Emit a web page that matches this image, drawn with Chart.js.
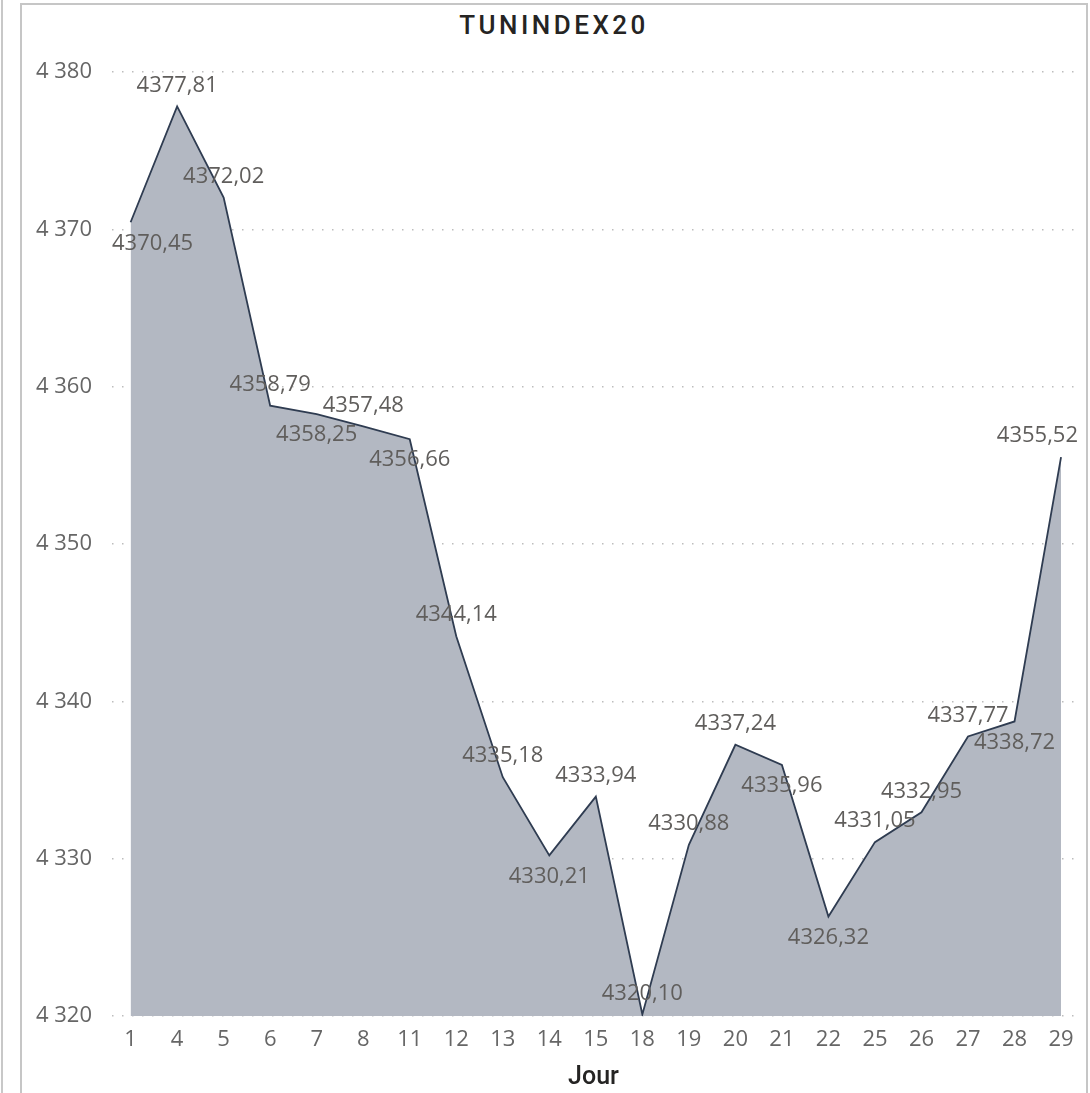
<!DOCTYPE html>
<html>
<head>
<meta charset="utf-8">
<script src="https://cdn.jsdelivr.net/npm/chart.js@4/dist/chart.umd.min.js"></script>
<style>
  html, body { margin: 0; padding: 0; background: #ffffff; }
  #wrap { position: relative; width: 1090px; height: 1093px; overflow: hidden; }
  #outerLine { position: absolute; left: 1px; top: 0; width: 2px; height: 1093px; background: #c8c8c8; }
  #box { position: absolute; left: 20px; top: 3px; width: 1064px; height: 1200px;
         border: 2px solid #c6c6c6; box-sizing: content-box; }
  #title { position: absolute; left: 22px; width: 1064px; top: 10px; text-align: center;
           font-family: Roboto, "DejaVu Sans", sans-serif; font-weight: 500; font-size: 26px;
           letter-spacing: 3.5px; color: #252423; line-height: 30px; }
  canvas { position: absolute; left: 0; top: 0; }
</style>
</head>
<body>
<div id="wrap">
  <div id="outerLine"></div>
  <div id="box"></div>
  <div id="title">TUNINDEX20</div>
  <canvas id="c" width="1090" height="1093"></canvas>
</div>
<script>
// ---- data ----
const days = ['1','4','5','6','7','8','11','12','13','14','15','18','19','20','21','22','25','26','27','28','29'];
const closes = [4370.45, 4377.81, 4372.02, 4358.79, 4358.25, 4357.48, 4356.66, 4344.14, 4335.18, 4330.21,
                4333.94, 4320.10, 4330.88, 4337.24, 4335.96, 4326.32, 4331.05, 4332.95, 4337.77, 4338.72, 4355.52];
const labelSides = ['below','above','above','above','below','above','below','above','above','below',
                    'above','above','above','above','below','below','above','above','above','below','above'];
const yTickValues = [4320, 4330, 4340, 4350, 4360, 4370, 4380];
const xTitle = 'Jour';

const fmtThousands = v => String(Math.round(v)).replace(/\B(?=(\d{3})+(?!\d))/g, ' ');
const fmtValue = v => v.toFixed(2).replace('.', ',');

const points = closes.map((v, i) => ({ x: i, y: v }));

const labelFont = '22px "Open Sans", "Noto Sans", sans-serif';

const dataLabels = {
  id: 'dataLabels',
  afterDraw(chart) {
    const ctx = chart.ctx;
    const meta = chart.getDatasetMeta(0);
    const area = chart.chartArea;
    ctx.save();
    ctx.font = labelFont;
    ctx.fillStyle = '#605E5C';
    ctx.textBaseline = 'middle';
    ctx.textAlign = 'left';
    meta.data.forEach((el, i) => {
      const txt = fmtValue(closes[i]);
      const w = ctx.measureText(txt).width;
      let x = el.x - w / 2;
      if (x < area.left) x = area.left;
      if (x + w > area.right + 3) x = area.right + 3 - w;
      const y = el.y + (labelSides[i] === 'above' ? -21 : 21);
      ctx.fillText(txt, x, y);
    });
    ctx.restore();
  }
};

new Chart(document.getElementById('c'), {
  type: 'line',
  data: {
    datasets: [{
      data: points,
      borderColor: '#2F3C51',
      borderWidth: 1.8,
      backgroundColor: '#B3B8C2',
      fill: 'start',
      pointRadius: 0,
      tension: 0
    }]
  },
  options: {
    responsive: false,
    animation: false,
    devicePixelRatio: 1,
    layout: { padding: { left: 22, right: 15, top: 72, bottom: 0 } },
    plugins: { legend: { display: false }, tooltip: { enabled: false }, title: { display: false } },
    scales: {
      x: {
        type: 'linear',
        min: -0.4,
        max: 20.3,
        grid: { display: false, drawTicks: false },
        border: { display: false },
        afterFit(scale) { scale.height = 77; },
        ticks: {
          stepSize: 1,
          includeBounds: false,
          autoSkip: false,
          maxRotation: 0,
          padding: 11,
          color: '#666666',
          font: { family: '"Open Sans", "Noto Sans", sans-serif', size: 22 },
          callback: v => (Number.isInteger(v) && days[v] !== undefined) ? days[v] : ''
        },
        title: {
          display: true,
          text: xTitle,
          color: '#252423',
          font: { family: 'Roboto, "DejaVu Sans", sans-serif', size: 25, weight: '500' },
          padding: { top: 0, bottom: 0 }
        }
      },
      y: {
        min: 4320,
        max: 4380,
        z: 1,
        afterFit(scale) { scale.width = 90; },
        afterBuildTicks(scale) { scale.ticks = yTickValues.map(v => ({ value: v })); },
        border: { display: false, dash: [1.5, 8.5] },
        grid: {
          color: '#bdbdbd',
          lineWidth: 1.5,
          drawTicks: false
        },
        ticks: {
          padding: 20,
          color: '#666666',
          font: { family: '"Open Sans", "Noto Sans", sans-serif', size: 22 },
          callback: v => fmtThousands(v)
        }
      }
    }
  },
  plugins: [dataLabels]
});
</script>
</body>
</html>
